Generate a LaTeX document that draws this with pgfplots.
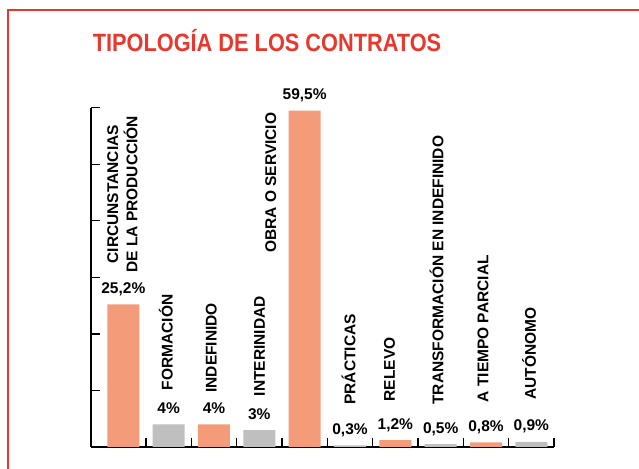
\documentclass[border=0pt]{standalone}
\usepackage{fontspec}
\setmainfont{Liberation Sans}
\newfontfamily\titlefont{Liberation Sans}[FakeStretch=0.87]
\usepackage{pgfplots}
\pgfplotsset{compat=1.18}
\definecolor{Csalmon}{HTML}{F49C7A}
\definecolor{Cgray}{HTML}{BFBFBF}
\definecolor{Cred}{HTML}{E8372C}

\begin{document}
\begin{tikzpicture}
\useasboundingbox (0,0) rectangle (639pt,468pt);
\draw[Cred, line width=2.5pt] (8pt,-40pt) rectangle (720pt,458pt);
\node[anchor=base, text=Cred, inner sep=0] at (267pt,416pt)
  {\titlefont\bfseries\fontsize{25}{30}\selectfont TIPOLOGÍA DE LOS CONTRATOS};
\begin{axis}[
  at={(91pt,21pt)}, anchor=south west,
  scale only axis, width=463pt, height=339.3pt,
  xmin=-0.713, xmax=9.5, ymin=0, ymax=60,
  axis x line=bottom, axis y line=left,
  axis line style={-, line width=1.4pt},
  xtick={0.5,1.5,...,9.5}, xticklabels={},
  ytick={0,10,...,60}, yticklabels={},
  tick align=inside, major tick length=8.5pt,
  tick style={black, line width=1.4pt},
  clip=false,
]
% salmon bars
\addplot[ybar, bar width=32pt, bar shift=0pt, fill=Csalmon, draw=none,
  point meta=explicit symbolic, nodes near coords,
  every node near coord/.style={anchor=base, yshift=11pt, inner sep=0,
    font=\bfseries\fontsize{15.5}{18}\selectfont, text=black}]
  coordinates {(0,25.2)[25,2\%] (2,4)[4\%] (4,59.5)[59,5\%] (6,1.2)[1,2\%] (8,0.8)[0,8\%]};
% gray bars
\addplot[ybar, bar width=32pt, bar shift=0pt, fill=Cgray, draw=none,
  point meta=explicit symbolic, nodes near coords,
  every node near coord/.style={anchor=base, yshift=11pt, inner sep=0,
    font=\bfseries\fontsize{15.5}{18}\selectfont, text=black}]
  coordinates {(1,4)[4\%] (3,3)[3\%] (5,0.3)[0,3\%] (7,0.5)[0,5\%] (9,0.9)[0,9\%]};
% category labels
\addplot[draw=none, mark=none, point meta=explicit symbolic, nodes near coords,
  every node near coord/.style={anchor=west, rotate=90, inner sep=0, align=center,
    font=\bfseries\fontsize{15.5}{19.3}\selectfont, text=black}]
  coordinates {(-0.02,30.8)[{CIRCUNSTANCIAS\\DE LA PRODUCCIÓN}]};
\addplot[draw=none, mark=none, point meta=explicit symbolic, nodes near coords,
  every node near coord/.style={anchor=base west, rotate=90, inner sep=0,
    font=\bfseries\fontsize{15.5}{18}\selectfont, text=black}]
  coordinates {
    (1.089,10.0)[FORMACIÓN]
    (2.06,9.6)[INDEFINIDO]
    (3.125,8.94)[INTERINIDAD]
    (3.37,34.3)[OBRA O SERVICIO]
    (5.12,7.47)[PRÁCTICAS]
    (5.99,8.06)[RELEVO]
    (7.06,7.47)[TRANSFORMACIÓN EN INDEFINIDO]
    (8.05,7.88)[A TIEMPO PARCIAL]
    (9.10,8.36)[AUTÓNOMO]
  };
\end{axis}
\end{tikzpicture}
\end{document}
